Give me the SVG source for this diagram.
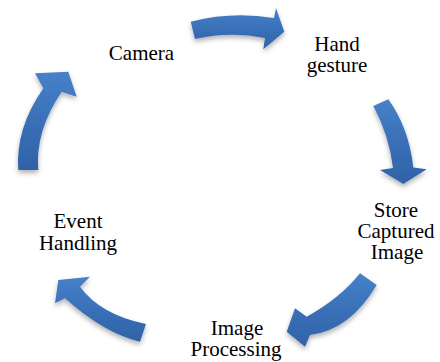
<svg xmlns="http://www.w3.org/2000/svg" width="440" height="362" viewBox="0 0 440 362">
<defs>
<linearGradient id="g" x1="0" y1="0" x2="0" y2="1">
<stop offset="0" stop-color="#4781c8"/>
<stop offset="0.5" stop-color="#3a70b8"/>
<stop offset="1" stop-color="#2f62a8"/>
</linearGradient>
<filter id="sh" x="-20%" y="-20%" width="140%" height="150%">
<feDropShadow dx="0" dy="3" stdDeviation="2.5" flood-color="#000" flood-opacity="0.3"/>
</filter>
<style>
.arrow{fill:url(#g);filter:url(#sh);}
text{font-family:"Liberation Serif","Times New Roman",serif;font-size:21px;fill:#000;text-anchor:middle;}
</style>
</defs>
<rect width="440" height="362" fill="#fff"/>
<g id="connectors">
<path class="arrow" d="M190.7,21.7 Q232,11 274,18 L276,8 L284.3,31.7 L263.3,49.3 L265,38 Q230,31 195,39 Z"/>
<path class="arrow" d="M373.3,106 Q389,135 393,168 L380,170 L403.3,184 L426.7,169.3 L413.3,167.5 Q409,128 388.3,99.3 Z"/>
<path class="arrow" d="M360,273.3 Q340,298.4 306.7,316.7 L295,308.3 L286.7,331.7 L305,346.7 L310,335 Q350,330 376.7,285 Z"/>
<path class="arrow" d="M146,324 Q100.4,314.6 80,286.7 L90,276.7 L58.3,280 L55,303.3 L65,298.3 Q104.1,333.4 140,341.7 Z"/>
<path class="arrow" d="M18.3,170 Q15.2,128.9 43.3,88.3 L35,73.3 L68.3,71.7 L76.7,96.7 L61.7,91.7 Q35,131.2 38.3,170 Z"/>
</g>
<g id="camera"><text x="141.5" y="60">Camera</text></g>
<g id="hand-gesture"><text x="337" y="51">Hand</text><text x="337" y="72">gesture</text></g>
<g id="store-captured-image"><text x="396" y="217">Store</text><text x="396" y="238">Captured</text><text x="397" y="259">Image</text></g>
<g id="image-processing"><text x="237" y="335">Image</text><text x="236" y="356">Processing</text></g>
<g id="event-handling"><text x="78" y="228">Event</text><text x="78" y="250">Handling</text></g>
</svg>
